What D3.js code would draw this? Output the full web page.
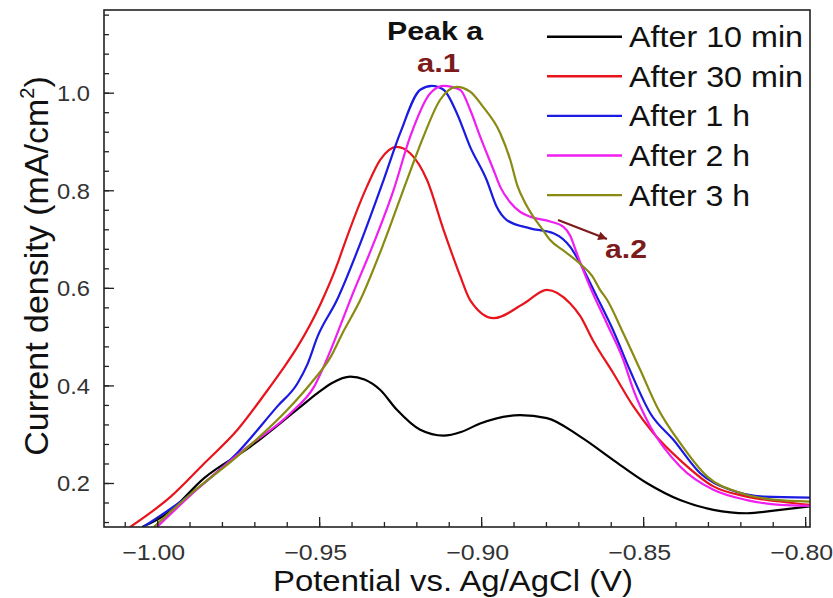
<!DOCTYPE html>
<html lang="en">
	<head>
		<meta charset="utf-8">
		<title>Peak a - current density</title>
		<script type="text/javascript" src="https://cdn.jsdelivr.net/npm/d3@7/dist/d3.min.js"></script>
		<style type="text/css">
			body{
				margin:0;
				background-color:white;
			}
			svg text{
				font-family: "Liberation Sans", Arial, sans-serif;
			}
		</style>
	</head>
	<body>
	<div class="chart"></div>
	<script type="text/javascript">
	// [potential (V), current density (mA/cm2)]
	var after10min = [[-1.0046,0.110],[-0.9968,0.138],[-0.9855,0.210],[-0.9711,0.275],[-0.9556,0.357],[-0.9505,0.384],[-0.9460,0.405],[-0.9404,0.418],[-0.9360,0.412],[-0.9312,0.391],[-0.9260,0.350],[-0.9188,0.309],[-0.9116,0.297],[-0.9060,0.305],[-0.9003,0.322],[-0.8880,0.339],[-0.8797,0.333],[-0.8694,0.295],[-0.8592,0.247],[-0.8489,0.200],[-0.8386,0.165],[-0.8283,0.145],[-0.8180,0.138],[-0.8077,0.145],[-0.7985,0.152]];
	var after30min = [[-1.0083,0.110],[-0.9958,0.172],[-0.9855,0.240],[-0.9752,0.309],[-0.9665,0.385],[-0.9611,0.435],[-0.9567,0.479],[-0.9495,0.568],[-0.9443,0.650],[-0.9425,0.684],[-0.9353,0.807],[-0.9312,0.862],[-0.9260,0.889],[-0.9219,0.876],[-0.9167,0.821],[-0.9116,0.719],[-0.9065,0.625],[-0.9034,0.575],[-0.8961,0.538],[-0.8868,0.568],[-0.8797,0.596],[-0.8725,0.568],[-0.8694,0.542],[-0.8653,0.490],[-0.8592,0.425],[-0.8530,0.357],[-0.8468,0.302],[-0.8386,0.247],[-0.8283,0.193],[-0.8180,0.172],[-0.8077,0.162],[-0.7985,0.155]];
	var after1h = [[-1.0043,0.110],[-0.9907,0.172],[-0.9752,0.262],[-0.9629,0.357],[-0.9567,0.404],[-0.9537,0.442],[-0.9505,0.500],[-0.9445,0.575],[-0.9373,0.691],[-0.9301,0.821],[-0.9250,0.917],[-0.9188,1.006],[-0.9152,1.014],[-0.9116,1.006],[-0.9075,0.958],[-0.9034,0.889],[-0.8983,0.821],[-0.8952,0.766],[-0.8921,0.739],[-0.8849,0.722],[-0.8777,0.712],[-0.8725,0.684],[-0.8694,0.650],[-0.8643,0.582],[-0.8592,0.512],[-0.8540,0.430],[-0.8478,0.343],[-0.8406,0.288],[-0.8324,0.220],[-0.8231,0.186],[-0.8129,0.172],[-0.7985,0.170]];
	var after2h = [[-1.0000,0.110],[-0.9855,0.200],[-0.9731,0.269],[-0.9587,0.344],[-0.9515,0.398],[-0.9464,0.473],[-0.9428,0.534],[-0.9404,0.575],[-0.9332,0.691],[-0.9270,0.801],[-0.9219,0.910],[-0.9157,0.999],[-0.9116,1.014],[-0.9065,1.006],[-0.9034,0.965],[-0.9003,0.910],[-0.8962,0.842],[-0.8941,0.807],[-0.8910,0.775],[-0.8880,0.756],[-0.8849,0.746],[-0.8787,0.736],[-0.8746,0.725],[-0.8725,0.707],[-0.8705,0.671],[-0.8664,0.602],[-0.8612,0.527],[-0.8561,0.452],[-0.8530,0.391],[-0.8478,0.316],[-0.8386,0.234],[-0.8283,0.186],[-0.8180,0.165],[-0.8077,0.155],[-0.7985,0.153]];
	var after3h = [[-1.0010,0.110],[-0.9896,0.178],[-0.9752,0.255],[-0.9598,0.350],[-0.9526,0.404],[-0.9464,0.459],[-0.9428,0.507],[-0.9373,0.575],[-0.9301,0.691],[-0.9229,0.821],[-0.9178,0.910],[-0.9127,0.985],[-0.9075,1.012],[-0.9034,1.002],[-0.8994,0.971],[-0.8941,0.917],[-0.8910,0.862],[-0.8889,0.811],[-0.8864,0.774],[-0.8840,0.747],[-0.8812,0.721],[-0.8787,0.698],[-0.8741,0.674],[-0.8694,0.649],[-0.8657,0.624],[-0.8633,0.596],[-0.8611,0.575],[-0.8562,0.508],[-0.8509,0.432],[-0.8457,0.356],[-0.8386,0.282],[-0.8302,0.213],[-0.8201,0.180],[-0.8099,0.166],[-0.7985,0.162]];

	var seriesNames = ['After 10 min','After 30 min','After 1 h','After 2 h','After 3 h'];
	var seriesData = [after10min, after30min, after1h, after2h, after3h];
	var seriesColors = ['#000000','#e8141c','#1a1ae0','#f01ef0','#888a12'];

	var xMajorTicks = [-1.00,-0.95,-0.90,-0.85,-0.80];
	var yMajorTicks = [0.2,0.4,0.6,0.8,1.0];

	var W = 833, H = 598;
	var plotL = 104, plotR = 810, plotT = 10, plotB = 527;

	var svg = d3.select('.chart')
				.append('svg')
				.attr('width', W)
				.attr('height', H);

	var x = d3.scaleLinear()
			.domain([-1.0164, -0.7985])
			.range([plotL, plotR]);
	var y = d3.scaleLinear()
			.domain([0.1098, 1.1695])
			.range([plotB, plotT]);

	svg.append('clipPath')
		.attr('id','plotclip')
		.append('rect')
		.attr('x', plotL).attr('y', plotT)
		.attr('width', plotR - plotL).attr('height', plotB - plotT);

	// curves
	var line = d3.line()
				.x(function(d) { return x(d[0]); })
				.y(function(d) { return y(d[1]); })
				.curve(d3.curveMonotoneX);

	svg.append('g')
		.attr('clip-path','url(#plotclip)')
		.selectAll('path')
		.data(seriesData)
		.enter().append('path')
		.attr('d', line)
		.attr('fill','none')
		.attr('stroke', function(d,i) { return seriesColors[i]; })
		.attr('stroke-width', 2.2)
		.attr('stroke-linejoin','round');

	// minor ticks
	var xMinor = d3.range(-1.01, -0.7989, 0.01);
	var yMinor = d3.range(0.12, 1.17, 0.04);

	svg.append('g')
		.attr('transform','translate(0,' + plotB + ')')
		.call(d3.axisBottom(x).tickValues(xMinor).tickSize(-5).tickFormat(''))
		.call(function(g) { g.select('.domain').remove(); });
	svg.append('g')
		.attr('transform','translate(' + plotL + ',0)')
		.call(d3.axisLeft(y).tickValues(yMinor).tickSize(-5).tickFormat(''))
		.call(function(g) { g.select('.domain').remove(); });

	// major ticks + labels
	var xAxisG = svg.append('g')
		.attr('transform','translate(0,' + plotB + ')')
		.call(d3.axisBottom(x).tickValues(xMajorTicks).tickSizeInner(-10).tickSizeOuter(0).tickFormat(d3.format('.2f')));
	xAxisG.select('.domain').remove();
	xAxisG.selectAll('text')
		.attr('x', -4)
		.attr('y', 33)
		.attr('dy', 0)
		.attr('font-size', '22px')
		.attr('fill', '#333')
		.attr('textLength', 63)
		.attr('lengthAdjust', 'spacingAndGlyphs');

	var yAxisG = svg.append('g')
		.attr('transform','translate(' + plotL + ',0)')
		.call(d3.axisLeft(y).tickValues(yMajorTicks).tickSizeInner(-10).tickSizeOuter(0).tickFormat(d3.format('.1f')));
	yAxisG.select('.domain').remove();
	yAxisG.selectAll('text')
		.attr('x', -14)
		.attr('dy', '0.36em')
		.attr('font-size', '22px')
		.attr('fill', '#333')
		.attr('textLength', 33)
		.attr('lengthAdjust', 'spacingAndGlyphs');

	svg.selectAll('.tick line').attr('stroke','#222').attr('stroke-width',1.3);

	// frame
	svg.append('rect')
		.attr('x', plotL).attr('y', plotT)
		.attr('width', plotR - plotL).attr('height', plotB - plotT)
		.attr('fill','none')
		.attr('stroke','#222')
		.attr('stroke-width',1.6);

	// axis titles
	svg.append('text')
		.attr('x', 273).attr('y', 591)
		.attr('font-size','29px')
		.attr('fill','#111')
		.attr('textLength', 360)
		.attr('lengthAdjust','spacingAndGlyphs')
		.text('Potential vs. Ag/AgCl (V)');

	var ylab = svg.append('text')
		.attr('transform','translate(48,266) rotate(-90)')
		.attr('text-anchor','middle')
		.attr('font-size','34px')
		.attr('fill','#111');
	ylab.append('tspan').text('Current density (mA/cm');
	ylab.append('tspan').attr('font-size','20px').attr('dy','-14').text('2');
	ylab.append('tspan').attr('dy','14').text(')');

	// legend
	var legend = svg.append('g').selectAll('g')
		.data(seriesNames)
		.enter().append('g')
		.attr('transform', function(d,i) { return 'translate(0,' + (36.7 + i*39.6) + ')'; });
	legend.append('line')
		.attr('x1', 547).attr('x2', 622)
		.attr('y1', 0).attr('y2', 0)
		.attr('stroke', function(d,i) { return seriesColors[i]; })
		.attr('stroke-width', 2.4);
	legend.append('text')
		.attr('x', 629).attr('y', 10.5)
		.attr('font-size','30px')
		.attr('fill','#111')
		.attr('textLength', function(d) { return d.indexOf('min') > 0 ? 174 : 121; })
		.attr('lengthAdjust','spacingAndGlyphs')
		.text(function(d) { return d; });

	// annotations
	var darkRed = '#7d1a1c';
	svg.append('text')
		.attr('x', 387).attr('y', 40)
		.attr('font-size','26px').attr('font-weight','bold')
		.attr('fill','#111')
		.attr('textLength', 96).attr('lengthAdjust','spacingAndGlyphs')
		.text('Peak a');
	svg.append('text')
		.attr('x', 417).attr('y', 72)
		.attr('font-size','25px').attr('font-weight','bold')
		.attr('fill', darkRed)
		.attr('textLength', 43).attr('lengthAdjust','spacingAndGlyphs')
		.text('a.1');
	svg.append('text')
		.attr('x', 605).attr('y', 258)
		.attr('font-size','25px').attr('font-weight','bold')
		.attr('fill', darkRed)
		.attr('textLength', 42).attr('lengthAdjust','spacingAndGlyphs')
		.text('a.2');

	svg.append('defs').append('marker')
		.attr('id','arrowhead')
		.attr('viewBox','0 0 10 10')
		.attr('refX', 10).attr('refY', 5)
		.attr('markerWidth', 5).attr('markerHeight', 4)
		.attr('markerUnits','strokeWidth')
		.attr('orient','auto')
		.append('path')
		.attr('d','M0,0 L10,5 L0,10 z')
		.attr('fill', darkRed);
	svg.append('line')
		.attr('x1', 558).attr('y1', 220)
		.attr('x2', 607).attr('y2', 239)
		.attr('stroke', darkRed)
		.attr('stroke-width', 2.2)
		.attr('marker-end','url(#arrowhead)');
	</script>
	</body>
</html>
